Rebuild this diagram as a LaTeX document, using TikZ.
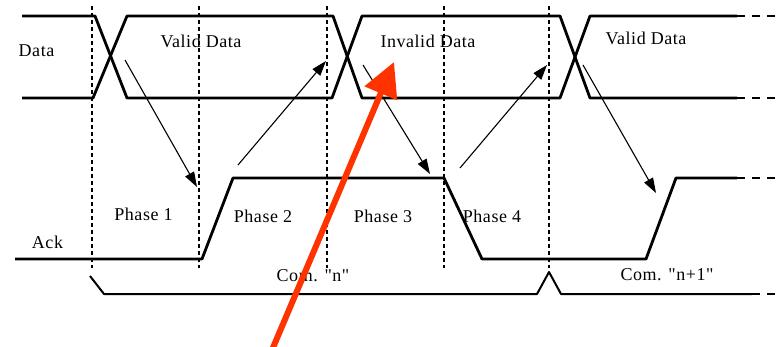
\documentclass[tikz,border=0pt]{standalone}
\usepackage{fontspec}
\setmainfont{Liberation Serif}[LetterSpace=3, Ligatures=TeXOff]
\usetikzlibrary{arrows.meta}
\definecolor{pointred}{RGB}{255,51,0}
\tikzset{
  sig/.style={line width=2.8pt, line join=round},
  sigtail/.style={line width=2.8pt, dash pattern=on 8pt off 7pt},
  busline/.style={line width=2pt, line join=round},
  bustail/.style={line width=2pt, dash pattern=on 8pt off 7pt},
  guide/.style={line width=1.2pt, dash pattern=on 4pt off 3pt},
  flow/.style={line width=1.1pt, -{Triangle[length=15pt,width=10pt]}},
  pointer/.style={draw=pointred, line width=6pt, -{Triangle[length=34pt,width=34pt]}},
  lbl/.style={font=\fontsize{18}{20}\selectfont, inner sep=0pt, anchor=base},
}
\begin{document}
\begin{tikzpicture}[x=1pt,y=-1pt]
\useasboundingbox (0,0) rectangle (776,347);
% guides
\foreach \gx in {92,199,327,444,549}{
  \draw[guide] (\gx,6) -- (\gx,268);
}
% Data lines
\draw[sig] (22,16) -- (95,16) -- (127,98) -- (332,98) -- (362,16) -- (560,16) -- (590,98) -- (737,98);
\draw[sig] (22,98) -- (93,98) -- (127,16) -- (333,16) -- (362,98) -- (560,98) -- (590,16) -- (737,16);
\draw[sigtail] (737,16) -- (776,16);
\draw[sigtail] (737,98) -- (776,98);
% Ack line
\draw[sig] (15,259) -- (202,259) -- (233,178) -- (444,178) -- (482,259) -- (646,259) -- (676,178) -- (737,178);
\draw[sigtail] (737,178) -- (776,178);
% Com bracket
\draw[busline] (90,276) -- (104,294) -- (537,294) -- (549,272) -- (561,294) -- (752,294);
\draw[bustail] (752,294) -- (776,294);
% arrow endpoints
\coordinate (a1s) at (125,60);  \coordinate (a1e) at (197,187);
\coordinate (a2s) at (238,165); \coordinate (a2e) at (326,61);
\coordinate (a3s) at (363,65);  \coordinate (a3e) at (430,174);
\coordinate (a4s) at (460,168); \coordinate (a4e) at (547,65);
\coordinate (a5s) at (583,65);  \coordinate (a5e) at (656,193);
\draw[flow] (a1s) -- (a1e);
\draw[flow] (a2s) -- (a2e);
\draw[flow] (a3s) -- (a3e);
\draw[flow] (a4s) -- (a4e);
\draw[flow] (a5s) -- (a5e);
% labels
\node[lbl] (ldata) at (36.5,57) {Data};
\node[lbl] (lvalid1) at (201,48) {Valid Data};
\node[lbl] (linvalid) at (428,48) {Invalid Data};
\node[lbl] (lvalid2) at (646,45) {Valid Data};
\node[lbl] (lack) at (47.5,249) {Ack};
\node[lbl] (lp1) at (143.5,221) {Phase 1};
\node[lbl] (lp2) at (263,223) {Phase 2};
\node[lbl] (lp3) at (383,223) {Phase 3};
\node[lbl] (lp4) at (492,223) {Phase 4};
\node[lbl] (lcomn) at (313,282) {Com. "n"};
\node[lbl] (lcomn1) at (667,280) {Com. "n+1"};
% red pointer
\coordinate (rs) at (272,350);
\coordinate (re) at (394,62);
\draw[pointer] (rs) -- (re);
\end{tikzpicture}
\end{document}
